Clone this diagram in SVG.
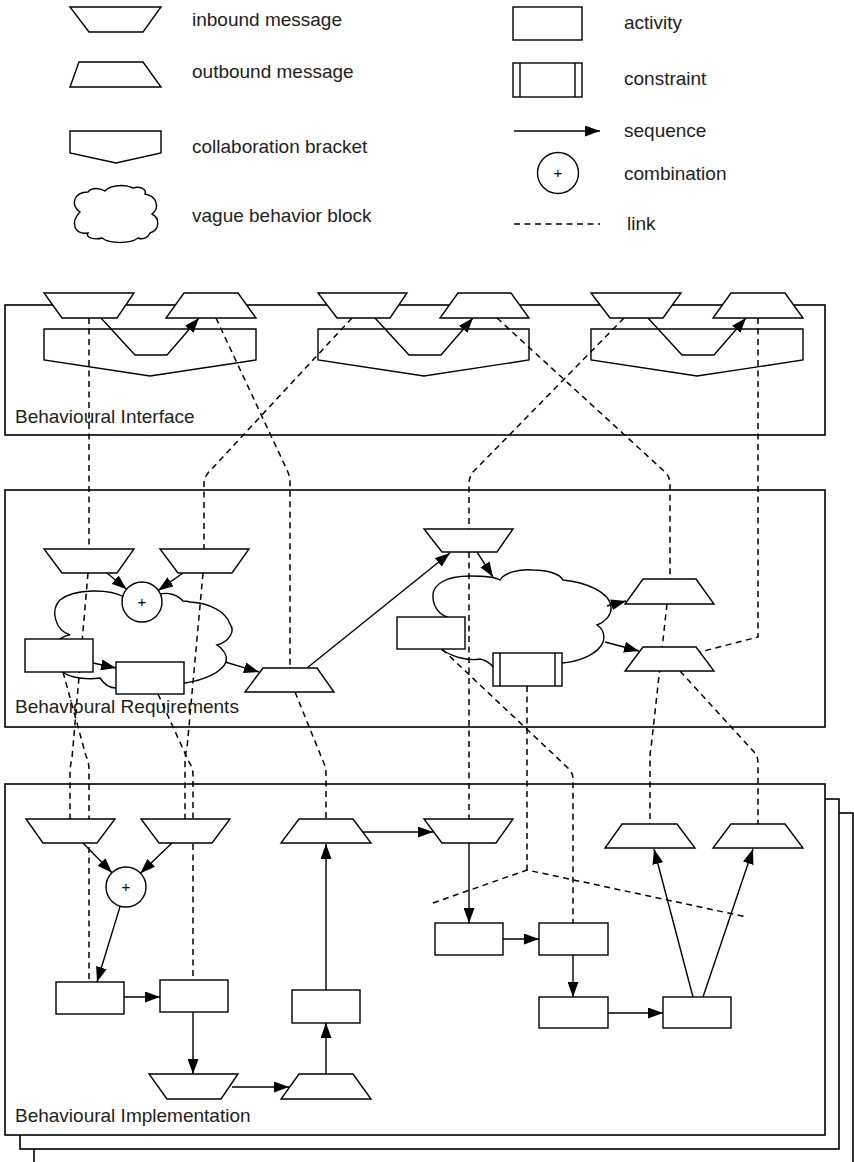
<svg xmlns="http://www.w3.org/2000/svg" width="854" height="1162" viewBox="0 0 854 1162">
<style>
.s{fill:#fff;stroke:#000;stroke-width:1.4;stroke-linejoin:miter}
.f{fill:#fff;stroke:#000;stroke-width:1.6}
.d{fill:none;stroke:#000;stroke-width:1.5;stroke-dasharray:6,4.5}
.a{fill:none;stroke:#000;stroke-width:1.4;marker-end:url(#ah)}
.l{fill:none;stroke:#000;stroke-width:1.4}
text{font-family:"Liberation Sans",Arial,Helvetica,sans-serif;font-size:19px;fill:#222}
.p{font-size:15px;text-anchor:middle;fill:#000}
</style>
<defs>
<marker id="ah" markerUnits="userSpaceOnUse" markerWidth="15" markerHeight="11" refX="15" refY="5.5" orient="auto">
<path d="M0,0 L15,5.5 L0,11 z" fill="#000"/>
</marker>
</defs>

<g id="legend">
<g id="lg-inbound"><polygon class="s" points="70,7 161,7 143,32 89,32"/><text x="192" y="26">inbound message</text></g>
<g id="lg-outbound"><polygon class="s" points="79,62 143,62 161,87 70,87"/><text x="192" y="78">outbound message</text></g>
<g id="lg-bracket"><polygon class="s" points="70,131 161,131 161,153 116,163 70,153"/><text x="192" y="153">collaboration bracket</text></g>
<g id="lg-cloud"><path class="s" d="M80,212 C70,205 74,192 88,192 C92,187 100,188 105,191 C110,185 125,184 133,188 C140,186 147,189 145,194 C157,196 160,208 152,214 C160,218 160,230 150,233 C148,238 142,240 138,238 C130,244 110,244 102,238 C95,240 85,238 88,233 C74,235 70,222 80,212 Z"/><text x="192" y="222">vague behavior block</text></g>
<g id="lg-activity"><rect class="s" x="513" y="7" width="69" height="33"/><text x="624" y="29">activity</text></g>
<g id="lg-constraint"><rect class="s" x="513" y="63" width="69" height="34"/><line class="l" x1="520" y1="63" x2="520" y2="97"/><line class="l" x1="575" y1="63" x2="575" y2="97"/><text x="624" y="85">constraint</text></g>
<g id="lg-sequence"><line class="a" x1="514" y1="131" x2="600" y2="131"/><text x="624" y="137">sequence</text></g>
<g id="lg-combination"><circle class="s" cx="558" cy="173" r="20.5"/><text class="p" x="558" y="178">+</text><text x="624" y="180">combination</text></g>
<g id="lg-link"><line class="d" x1="514" y1="224" x2="600" y2="224"/><text x="627" y="230">link</text></g>
</g>

<g id="frame-interface"><rect class="f" x="5" y="305" width="820" height="130"/><text x="15" y="423">Behavioural Interface</text></g>
<g id="frame-requirements"><rect class="f" x="5" y="490" width="820" height="237"/><text x="15" y="713">Behavioural Requirements</text></g>
<g id="frame-implementation">
<rect class="f" x="34" y="813" width="819" height="360"/>
<rect class="f" x="20" y="799" width="819" height="350"/>
<rect class="f" x="5" y="784" width="820" height="351"/>
<text x="15" y="1122">Behavioural Implementation</text>
</g>

<g id="bracket-1"><polygon class="s" points="44,329 256,329 256,360 150,376 44,360"/></g>
<g id="bracket-2"><polygon class="s" points="318,329 529,329 529,360 424,376 318,360"/></g>
<g id="bracket-3"><polygon class="s" points="591,329 803,329 803,360 697,376 591,360"/></g>

<g id="cloud-req-1"><path class="s" d="M124,597 C110,589 75,588 60,600 C50,610 55,630 70,635 C58,636 50,650 55,660 C58,668 60,671 63,672 C70,678 88,680 100,678 C104,684 110,688 116,688 L150,690 L185,683 C205,680 222,672 226,662 C228,655 222,648 217,645 C228,642 236,632 230,624 C226,612 210,603 190,602 C187,601 185,601 183,601 C178,595 168,592 160,594 Z"/></g>
<g id="cloud-req-2"><path class="s" d="M433,597 C432,585 445,576 470,576 C485,576 495,577 500,580 C505,572 520,569 533,570 C548,570 560,574 563,580 C585,582 610,592 611,607 C612,615 605,622 597,625 C605,630 606,640 600,647 C594,655 578,662 562,663 L493,667 C490,663 485,660 480,659 C470,661 455,658 442,650 L447,617 C438,614 433,605 433,597 Z"/></g>

<g id="connectors">
<path class="d" d="M89,318 L89,549"/>
<path class="d" d="M216,318 L287,470 Q290,476 290,482 L290,668"/>
<path class="d" d="M352,318 L208,473 Q204,478 204,484 L204,549"/>
<path class="d" d="M497,318 L665,472 Q670,477 670,484 L670,579"/>
<path class="d" d="M624,318 L473,472 Q469,477 469,484 L469,529"/>
<path class="d" d="M758,318 L758,637 L700,652"/>
<path class="d" d="M88,573 L72,758 Q70,766 70,774 L70,819"/>
<path class="d" d="M63,672 L86,756 Q89,762 89,770 L89,982"/>
<path class="d" d="M203,573 L187,748 Q185,755 185,762 L185,819"/>
<path class="d" d="M158,694 L189,762 Q193,768 193,775 L193,980"/>
<path class="d" d="M295,692 L323,761 Q326,767 326,774 L326,819"/>
<path class="d" d="M442,649 L569,769 Q573,773 573,779 L573,923"/>
<path class="d" d="M469,552 L469,819"/>
<path class="d" d="M527,686 L527,870"/>
<path class="d" d="M433,903 L527,870 L747,917"/>
<path class="d" d="M667,604 L651,748 Q650,753 650,758 L650,824"/>
<path class="d" d="M680,671 L755,753 Q758,757 758,763 L758,824"/>

<path class="a" d="M101,318 L135,355 L167,355 L199,318"/>
<path class="a" d="M375,318 L409,355 L441,355 L473,318"/>
<path class="a" d="M648,318 L682,355 L714,355 L746,318"/>
<line class="a" x1="107" y1="573" x2="126.6" y2="589.3"/>
<line class="a" x1="183" y1="573" x2="158.3" y2="590.4"/>
<line class="a" x1="93" y1="663" x2="116" y2="668"/>
<line class="a" x1="225" y1="662" x2="259" y2="672"/>
<line class="a" x1="307" y1="668" x2="450" y2="553"/>
<line class="a" x1="477" y1="552" x2="493" y2="577"/>
<line class="a" x1="607" y1="606" x2="626" y2="601"/>
<line class="a" x1="605" y1="642" x2="639" y2="651"/>
<line class="a" x1="83" y1="843" x2="112" y2="872.7"/>
<line class="a" x1="172" y1="843" x2="140.4" y2="873.2"/>
<line class="a" x1="120.2" y1="906.1" x2="97" y2="982"/>
<line class="a" x1="124" y1="997" x2="160" y2="997"/>
<line class="a" x1="193" y1="1012" x2="193" y2="1074"/>
<line class="a" x1="232" y1="1087" x2="289" y2="1087"/>
<line class="a" x1="326" y1="1074" x2="326" y2="1023"/>
<line class="a" x1="326" y1="990" x2="326" y2="844"/>
<line class="a" x1="362" y1="832" x2="433" y2="832"/>
<line class="a" x1="469" y1="843" x2="469" y2="923"/>
<line class="a" x1="503" y1="939" x2="539" y2="939"/>
<line class="a" x1="573" y1="955" x2="573" y2="997"/>
<line class="a" x1="608" y1="1013" x2="663" y2="1013"/>
<line class="a" x1="693" y1="997" x2="654" y2="849"/>
<line class="a" x1="703" y1="997" x2="753" y2="849"/>
</g>

<g id="if-in-1"><polygon class="s" points="44,293 134,293 117,318 62,318"/></g>
<g id="if-out-1"><polygon class="s" points="184,293 238,293 256,318 166,318"/></g>
<g id="if-in-2"><polygon class="s" points="318,293 407,293 390,318 337,318"/></g>
<g id="if-out-2"><polygon class="s" points="458,293 511,293 529,318 440,318"/></g>
<g id="if-in-3"><polygon class="s" points="591,293 681,293 663,318 610,318"/></g>
<g id="if-out-3"><polygon class="s" points="731,293 785,293 803,318 713,318"/></g>

<g id="rq-in-a"><polygon class="s" points="44,549 134,549 117,573 62,573"/></g>
<g id="rq-in-b"><polygon class="s" points="160,549 249,549 232,573 178,573"/></g>
<g id="rq-comb"><circle class="s" cx="142" cy="602" r="20"/><text class="p" x="142" y="607">+</text></g>
<g id="rq-act-a"><rect class="s" x="25" y="639" width="68" height="33"/></g>
<g id="rq-act-b"><rect class="s" x="116" y="662" width="68" height="32"/></g>
<g id="rq-out-c"><polygon class="s" points="263,668 317,668 334,692 245,692"/></g>
<g id="rq-in-d"><polygon class="s" points="424,529 513,529 497,552 442,552"/></g>
<g id="rq-act-d"><rect class="s" x="397" y="617" width="68" height="32"/></g>
<g id="rq-constraint"><rect class="s" x="493" y="653" width="69" height="33"/><line class="l" x1="500" y1="653" x2="500" y2="686"/><line class="l" x1="555" y1="653" x2="555" y2="686"/></g>
<g id="rq-out-i"><polygon class="s" points="643,579 696,579 714,604 625,604"/></g>
<g id="rq-out-k"><polygon class="s" points="643,647 696,647 714,671 625,671"/></g>

<g id="im-in-e"><polygon class="s" points="26,819 115,819 97,843 43,843"/></g>
<g id="im-in-f"><polygon class="s" points="141,819 230,819 212,843 159,843"/></g>
<g id="im-comb"><circle class="s" cx="126" cy="887" r="20"/><text class="p" x="126" y="892">+</text></g>
<g id="im-out-g"><polygon class="s" points="299,819 353,819 371,843 281,843"/></g>
<g id="im-in-h"><polygon class="s" points="424,819 513,819 496,843 442,843"/></g>
<g id="im-out-j"><polygon class="s" points="622,824 677,824 695,848 605,848"/></g>
<g id="im-out-l"><polygon class="s" points="731,824 785,824 803,848 713,848"/></g>
<g id="im-act-p"><rect class="s" x="56" y="982" width="68" height="32"/></g>
<g id="im-act-q"><rect class="s" x="160" y="980" width="68" height="32"/></g>
<g id="im-act-t"><rect class="s" x="292" y="990" width="68" height="33"/></g>
<g id="im-in-r"><polygon class="s" points="149,1074 238,1074 221,1099 167,1099"/></g>
<g id="im-out-s"><polygon class="s" points="299,1074 353,1074 371,1099 281,1099"/></g>
<g id="im-act-u"><rect class="s" x="435" y="923" width="68" height="32"/></g>
<g id="im-act-v"><rect class="s" x="539" y="923" width="69" height="32"/></g>
<g id="im-act-w"><rect class="s" x="539" y="997" width="69" height="31"/></g>
<g id="im-act-x"><rect class="s" x="663" y="997" width="68" height="31"/></g>
</svg>
